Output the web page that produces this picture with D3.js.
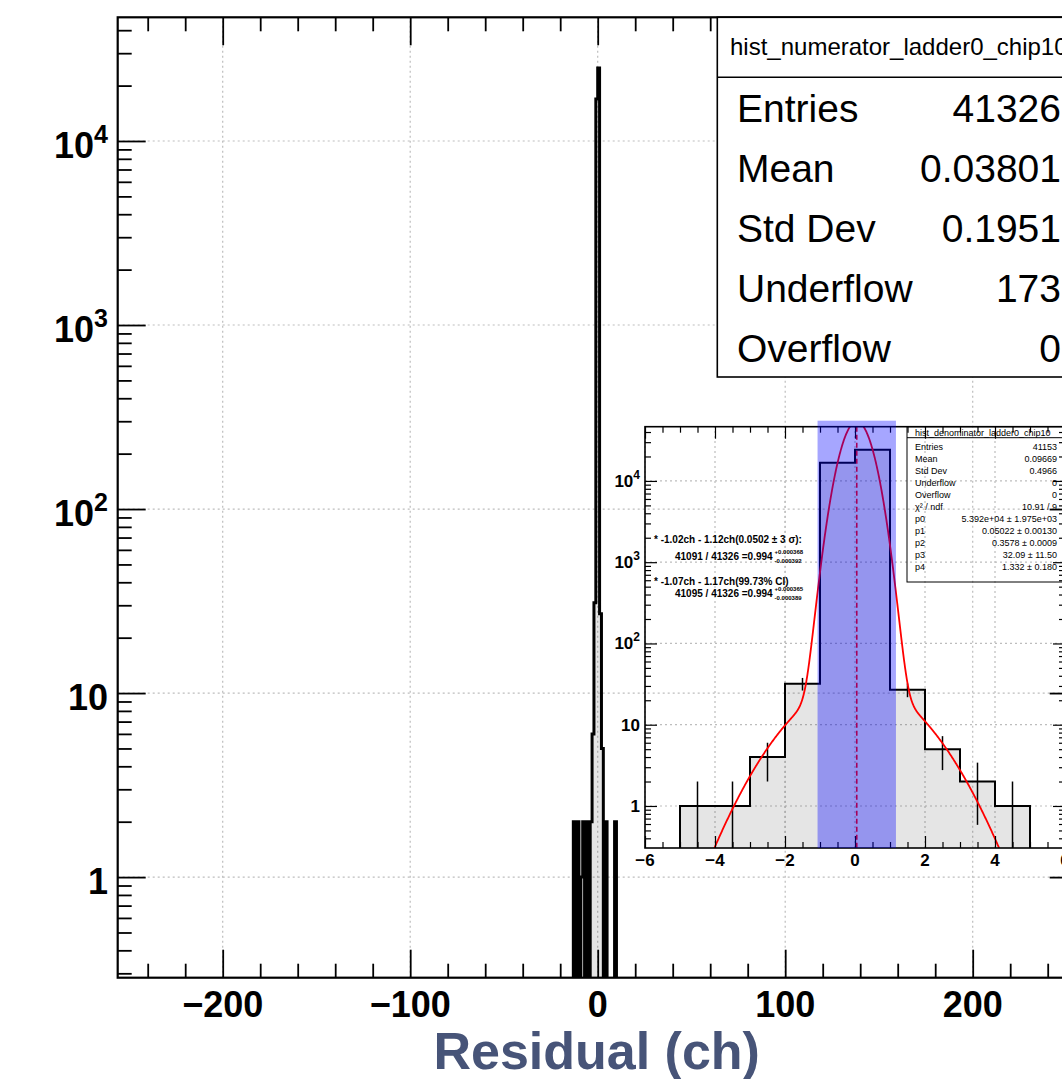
<!DOCTYPE html>
<html>
<head>
<meta charset="utf-8">
<script src="https://cdn.jsdelivr.net/npm/d3@7"></script>
<style>
  body { margin: 0; background: #fff; }
  svg { display: block; font-family: "Liberation Sans", Arial, Helvetica, sans-serif; }
</style>
</head>
<body>
<svg width="1062" height="1079"></svg>
<script>
// ---- values ----

// main histogram (numerator), 1 ch bins: lower edge -> entries
var mainBinLow = [-14, -13, -12, -11, -10, -9, -8, -7, -6, -5, -4, -3, -2, -1, 0, 1, 2, 3, 4, 5, 6, 7, 8, 9, 10];
var mainCounts = [0, 2, 0, 2, 0, 1, 2, 0, 2, 0, 2, 6, 31, 16900, 24900, 27, 5, 0, 2, 0, 0, 0, 0, 2, 0];

// inset histogram (denominator), -6..6 ch
var insetBinLow = [-6, -5, -4, -3, -2, -1, 0, 1, 2, 3, 4, 5];
var insetCounts = [0, 1, 1, 4, 32, 16800, 24270, 27, 5, 2, 1, 0];

// fit: p0*gaus(p1,p2) + p3*gaus(p1,p4)
var fitP = [53920, 0.05022, 0.3578, 32.09, 1.332];
var bandLo = -1.07, bandHi = 1.17;

var mainXTicks = [-200, -100, 0, 100, 200];
var mainXLabels = ["\u2212200", "\u2212100", "0", "100", "200"];
var decades = [1, 10, 100, 1000, 10000];
var insetXTicks = [-6, -4, -2, 0, 2, 4, 6];
var insetXLabels = ["\u22126", "\u22124", "\u22122", "0", "2", "4", "6"];

var mainStatTitle = "hist_numerator_ladder0_chip10";
var mainStatNames = ["Entries", "Mean", "Std Dev", "Underflow", "Overflow"];
var mainStatValues = ["41326", "0.03801", "0.1951", "173", "0"];

var insetStatTitle = "hist_denominator_ladder0_chip10";
var insetStatNames = ["Entries", "Mean", "Std Dev", "Underflow", "Overflow", "\u03c7\u00b2 / ndf", "p0", "p1", "p2", "p3", "p4"];
var insetStatValues = ["41153", "0.09669", "0.4966", "0", "0", "10.91 / 9", "5.392e+04 \u00b1 1.975e+03",
    "0.05022 \u00b1 0.00130", "0.3578 \u00b1 0.0009", "32.09 \u00b1 11.50", "1.332 \u00b1 0.180"];

var ciHead = ["* -1.02ch - 1.12ch(0.0502 \u00b1 3  \u03c3):", "* -1.07ch - 1.17ch(99.73% CI)"];
var ciRatio = ["41091 / 41326 =0.994", "41095 / 41326 =0.994"];
var ciUp = ["+0.000368", "+0.000365"];
var ciDown = ["-0.000392", "-0.000389"];

// ---- layout ----
var svg = d3.select("svg");
var M = {l: 117.7, r: 1077.7, t: 17.3, b: 977.7};   // main frame
var I = {l: 645, r: 1065, t: 426.7, b: 848};         // inset frame

var mainX = d3.scaleLinear().domain([-256, 256]).range([M.l, M.r]);
var mainY = d3.scaleLog().domain([0.284, 47000]).range([M.b, M.t]);
var insetX = d3.scaleLinear().domain([-6, 6]).range([I.l, I.r]);
var insetY = d3.scaleLog().domain([0.304, 46500]).range([I.b, I.t]);

var defs = svg.append("defs");
defs.append("clipPath").attr("id", "clipMain").append("rect")
    .attr("x", M.l).attr("y", M.t).attr("width", M.r - M.l).attr("height", M.b - M.t);
defs.append("clipPath").attr("id", "clipInset").append("rect")
    .attr("x", I.l).attr("y", I.t).attr("width", I.r - I.l).attr("height", I.b - I.t);

var gridColor = "#bdbdbd";

function drawGrid(g, x, y, xs, ys) {
    g.selectAll(".vg").data(xs).enter().append("line")
        .attr("x1", function(d) { return x(d); }).attr("x2", function(d) { return x(d); })
        .attr("y1", y.range()[0]).attr("y2", y.range()[1]);
    g.selectAll(".hg").data(ys).enter().append("line")
        .attr("y1", function(d) { return y(d); }).attr("y2", function(d) { return y(d); })
        .attr("x1", x.range()[0]).attr("x2", x.range()[1]);
    g.selectAll("line").attr("stroke", gridColor).attr("stroke-width", 1.2).attr("stroke-dasharray", "2,3");
}

// step outline of a histogram, empty bins pushed below the frame (clipped)
function stepPoints(lows, counts) {
    var pts = [];
    lows.forEach(function(lo, i) {
        var c = counts[i] > 0 ? counts[i] : 0.01;
        pts.push([lo, c], [lo + 1, c]);
    });
    return pts;
}

function logMinor(scale) {
    var dom = scale.domain(), out = [];
    for (var n = -1; n <= 4; n++)
        for (var k = 2; k <= 9; k++) {
            var v = k * Math.pow(10, n);
            if (v >= dom[0] && v <= dom[1]) out.push(v);
        }
    return out;
}

function ticks(g, axis, values, size, w) {
    g.call(axis.tickValues(values).tickSize(size).tickFormat(""));
    g.select(".domain").remove();
    g.selectAll(".tick text").remove();
    g.selectAll(".tick line").attr("stroke", "#000").attr("stroke-width", w);
}

function powLabel(g, x, y, v, size, supSize, rise) {
    var t = g.append("text").attr("x", x).attr("y", y).attr("text-anchor", "end")
        .attr("font-size", size).attr("font-weight", "bold");
    var e = Math.round(Math.log10(v));
    if (e < 2) { t.text(String(v)); return; }
    t.append("tspan").text("10");
    t.append("tspan").attr("font-size", supSize).attr("dy", -rise).text(String(e));
}

// ---- main pad ----
var gMain = svg.append("g");
drawGrid(gMain.append("g"), mainX, mainY, mainXTicks, decades);

var mainPts = stepPoints(mainBinLow, mainCounts);
var hMain = gMain.append("g").attr("clip-path", "url(#clipMain)");
hMain.append("path")
    .attr("d", d3.area().x(function(d) { return mainX(d[0]); })
        .y0(mainY(0.01)).y1(function(d) { return mainY(d[1]); })(mainPts))
    .attr("fill", "#000").attr("fill-opacity", 0.1);
hMain.append("path")
    .attr("d", d3.line().x(function(d) { return mainX(d[0]); }).y(function(d) { return mainY(d[1]); })(mainPts))
    .attr("fill", "none").attr("stroke", "#000").attr("stroke-width", 3);

var mainXMinor = d3.range(-240, 241, 20).filter(function(v) { return v % 100 !== 0; });
ticks(gMain.append("g").attr("transform", "translate(0," + M.b + ")"), d3.axisBottom(mainX), mainXTicks, -28, 1.8);
ticks(gMain.append("g").attr("transform", "translate(0," + M.b + ")"), d3.axisBottom(mainX), mainXMinor, -14, 1.8);
ticks(gMain.append("g").attr("transform", "translate(0," + M.t + ")"), d3.axisTop(mainX), mainXTicks, -28, 1.8);
ticks(gMain.append("g").attr("transform", "translate(0," + M.t + ")"), d3.axisTop(mainX), mainXMinor, -14, 1.8);
ticks(gMain.append("g").attr("transform", "translate(" + M.l + ",0)"), d3.axisLeft(mainY), decades, -28, 1.8);
ticks(gMain.append("g").attr("transform", "translate(" + M.l + ",0)"), d3.axisLeft(mainY), logMinor(mainY), -14, 1.8);
ticks(gMain.append("g").attr("transform", "translate(" + M.r + ",0)"), d3.axisRight(mainY), decades, -28, 1.8);
ticks(gMain.append("g").attr("transform", "translate(" + M.r + ",0)"), d3.axisRight(mainY), logMinor(mainY), -14, 1.8);

gMain.append("rect").attr("x", M.l).attr("y", M.t).attr("width", M.r - M.l).attr("height", M.b - M.t)
    .attr("fill", "none").attr("stroke", "#000").attr("stroke-width", 2.2);

gMain.selectAll(".xl").data(mainXTicks).enter().append("text")
    .attr("x", function(d) { return mainX(d); }).attr("y", 1017)
    .attr("text-anchor", "middle").attr("font-size", 36).attr("font-weight", "bold")
    .text(function(d, i) { return mainXLabels[i]; });
decades.forEach(function(v) { powLabel(gMain, 108, mainY(v) + 17, v, 36, 25, 15); });

gMain.append("text").attr("x", mainX(0) - 1).attr("y", 1069).attr("text-anchor", "middle")
    .attr("font-size", 52).attr("font-weight", "bold").attr("fill", "#475478")
    .text("Residual (ch)");

// ---- inset pad (transparent) ----
var gIn = svg.append("g");
drawGrid(gIn.append("g"), insetX, insetY, insetXTicks, decades);

var inPts = stepPoints(insetBinLow, insetCounts);
var hIn = gIn.append("g").attr("clip-path", "url(#clipInset)");
hIn.append("path")
    .attr("d", d3.area().x(function(d) { return insetX(d[0]); })
        .y0(insetY(0.01)).y1(function(d) { return insetY(d[1]); })(inPts))
    .attr("fill", "#000").attr("fill-opacity", 0.1);
hIn.append("path")
    .attr("d", d3.line().x(function(d) { return insetX(d[0]); }).y(function(d) { return insetY(d[1]); })(inPts))
    .attr("fill", "none").attr("stroke", "#000").attr("stroke-width", 2);

// poisson error bars
hIn.selectAll(".err").data(insetBinLow.filter(function(d, i) { return insetCounts[i] > 0; }))
    .enter().append("line")
    .attr("x1", function(d) { return insetX(d + 0.5); }).attr("x2", function(d) { return insetX(d + 0.5); })
    .attr("y1", function(d) { var c = insetCounts[insetBinLow.indexOf(d)]; return insetY(Math.max(c - Math.sqrt(c), 0.01)); })
    .attr("y2", function(d) { var c = insetCounts[insetBinLow.indexOf(d)]; return insetY(c + Math.sqrt(c)); })
    .attr("stroke", "#000").attr("stroke-width", 1.5);

// fit function
function fitF(x) {
    var a = (x - fitP[1]) / fitP[2], b = (x - fitP[1]) / fitP[4];
    return fitP[0] * Math.exp(-0.5 * a * a) + fitP[3] * Math.exp(-0.5 * b * b);
}
var fitXs = d3.range(-6, 6.0001, 0.01);
hIn.append("path")
    .attr("d", d3.line().x(function(d) { return insetX(d); }).y(function(d) { return insetY(Math.max(fitF(d), 0.01)); })(fitXs))
    .attr("fill", "none").attr("stroke", "#ff0000").attr("stroke-width", 1.8);
hIn.append("line")
    .attr("x1", insetX(fitP[1])).attr("x2", insetX(fitP[1])).attr("y1", I.t).attr("y2", I.b)
    .attr("stroke", "#ff0000").attr("stroke-width", 1.6).attr("stroke-dasharray", "5,3");

var inXMinor = d3.range(-6, 6.001, 0.5).filter(function(v) { return v % 2 !== 0; });
ticks(gIn.append("g").attr("transform", "translate(0," + I.b + ")"), d3.axisBottom(insetX), insetXTicks, -12, 1.2);
ticks(gIn.append("g").attr("transform", "translate(0," + I.b + ")"), d3.axisBottom(insetX), inXMinor, -6, 1.2);
ticks(gIn.append("g").attr("transform", "translate(0," + I.t + ")"), d3.axisTop(insetX), insetXTicks, -12, 1.2);
ticks(gIn.append("g").attr("transform", "translate(0," + I.t + ")"), d3.axisTop(insetX), inXMinor, -6, 1.2);
ticks(gIn.append("g").attr("transform", "translate(" + I.l + ",0)"), d3.axisLeft(insetY), decades, -12, 1.2);
ticks(gIn.append("g").attr("transform", "translate(" + I.l + ",0)"), d3.axisLeft(insetY), logMinor(insetY), -6, 1.2);
ticks(gIn.append("g").attr("transform", "translate(" + I.r + ",0)"), d3.axisRight(insetY), decades, -12, 1.2);
ticks(gIn.append("g").attr("transform", "translate(" + I.r + ",0)"), d3.axisRight(insetY), logMinor(insetY), -6, 1.2);

gIn.append("rect").attr("x", I.l).attr("y", I.t).attr("width", I.r - I.l).attr("height", I.b - I.t)
    .attr("fill", "none").attr("stroke", "#000").attr("stroke-width", 1.6);

gIn.selectAll(".xl").data(insetXTicks).enter().append("text")
    .attr("x", function(d) { return insetX(d); }).attr("y", 866)
    .attr("text-anchor", "middle").attr("font-size", 17).attr("font-weight", "bold")
    .text(function(d, i) { return insetXLabels[i]; });
decades.forEach(function(v) { powLabel(gIn, 640, insetY(v) + 6, v, 17, 12, 8); });

// interval annotations
var gCi = gIn.append("g").attr("font-weight", "bold");
ciHead.forEach(function(s, i) {
    var base = [543, 585][i], rb = [560, 597][i];
    gCi.append("text").attr("x", 654).attr("y", base).attr("font-size", 10).text(s);
    var r = gCi.append("text").attr("x", 675).attr("y", rb).attr("font-size", 10).text(ciRatio[i]);
    var xe = 675 + r.node().getComputedTextLength() + 2;
    gCi.append("text").attr("x", xe).attr("y", rb - 6.5).attr("font-size", 6).text(ciUp[i]);
    gCi.append("text").attr("x", xe).attr("y", rb + 2.5).attr("font-size", 6).text(ciDown[i]);
});

// inset stat box (no fill)
var sIn = gIn.append("g");
sIn.append("rect").attr("x", 907).attr("y", I.t).attr("width", 156).attr("height", 582 - I.t)
    .attr("fill", "none").attr("stroke", "#000").attr("stroke-width", 1);
sIn.append("line").attr("x1", 907).attr("x2", 1063).attr("y1", 437.7).attr("y2", 437.7)
    .attr("stroke", "#000").attr("stroke-width", 1);
sIn.append("text").attr("x", 915).attr("y", 435.5).attr("font-size", 9).text(insetStatTitle);
insetStatNames.forEach(function(n, i) {
    sIn.append("text").attr("x", 915).attr("y", 450 + 12 * i).attr("font-size", 9).text(n);
    sIn.append("text").attr("x", 1057).attr("y", 450 + 12 * i).attr("font-size", 9)
        .attr("text-anchor", "end").text(insetStatValues[i]);
});

// 99.73% interval band on top
gIn.append("rect")
    .attr("x", insetX(bandLo)).attr("width", insetX(bandHi) - insetX(bandLo))
    .attr("y", I.t - 6).attr("height", I.b - I.t + 6)
    .attr("fill", "rgb(0,0,255)").attr("fill-opacity", 0.35);

// ---- main stat box ----
var sMain = svg.append("g");
sMain.append("rect").attr("x", 717.3).attr("y", M.t).attr("width", M.r - 717.3).attr("height", 377 - M.t)
    .attr("fill", "#fff").attr("stroke", "#000").attr("stroke-width", 1.6);
sMain.append("line").attr("x1", 717.3).attr("x2", M.r).attr("y1", 77.3).attr("y2", 77.3)
    .attr("stroke", "#000").attr("stroke-width", 1.6);
sMain.append("text").attr("x", 730).attr("y", 55).attr("font-size", 24).text(mainStatTitle);
mainStatNames.forEach(function(n, i) {
    sMain.append("text").attr("x", 737).attr("y", 121.7 + 60 * i).attr("font-size", 39).text(n);
    sMain.append("text").attr("x", 1061).attr("y", 121.7 + 60 * i).attr("font-size", 39)
        .attr("text-anchor", "end").text(mainStatValues[i]);
});
</script>
</body>
</html>
